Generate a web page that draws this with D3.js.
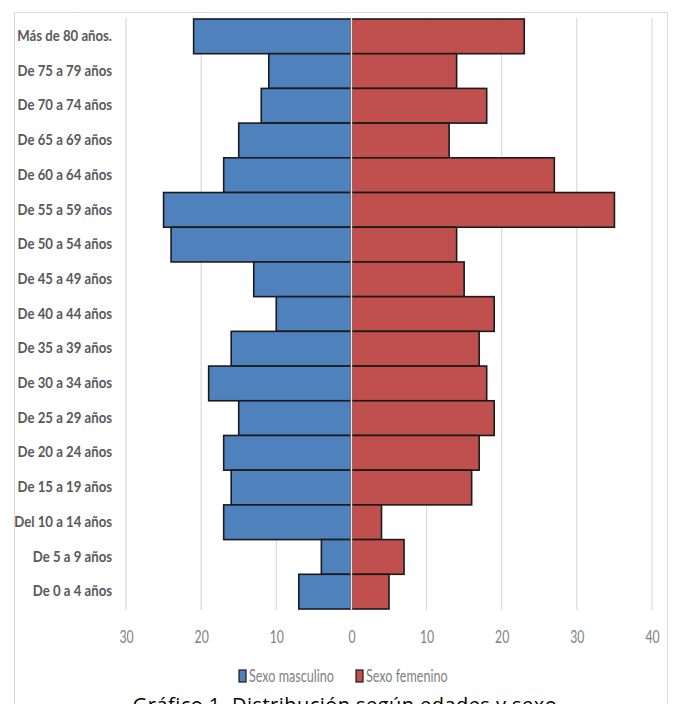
<!DOCTYPE html>
<html>
<head>
<meta charset="utf-8">
<script src="https://cdn.jsdelivr.net/npm/d3@7/dist/d3.min.js"></script>
<style>
  html, body { margin: 0; padding: 0; background: #fff; }
  svg { display: block; }
</style>
</head>
<body>
<svg id="chart" width="673" height="704"></svg>
<script>
// Age groups, top to bottom
const ageGroups = [
  "Más de 80 años.", "De 75 a 79 años", "De 70 a 74 años", "De 65 a 69 años",
  "De 60 a 64 años", "De 55 a 59 años", "De 50 a 54 años", "De 45 a 49 años",
  "De 40 a 44 años", "De 35 a 39 años", "De 30 a 34 años", "De 25 a 29 años",
  "De 20 a 24 años", "De 15 a 19 años", "Del 10 a 14 años", "De 5 a 9 años",
  "De 0 a 4 años"
];
// Counts per age group
const male   = [21, 11, 12, 15, 17, 25, 24, 13, 10, 16, 19, 15, 17, 16, 17, 4, 7];
const female = [23, 14, 18, 13, 27, 35, 14, 15, 19, 17, 18, 19, 17, 16, 4, 7, 5];
const tickValues = [-30, -20, -10, 0, 10, 20, 30, 40];
const seriesNames = ["Sexo masculino", "Sexo femenino"];
const seriesColors = ["#4f81bd", "#c0504d"];

const svg = d3.select("#chart");
const font = "Lato, 'Open Sans', sans-serif";

// Narrow the glyphs horizontally around each text's anchor point
function squeeze(sel, s) {
  sel.each(function () {
    const t = d3.select(this);
    const tx = +t.attr("x") || 0;
    t.attr("x", 0).attr("transform", `translate(${tx},0) scale(${s},1)`);
  });
}

// Outer frame
svg.append("rect")
  .attr("x", 14.5).attr("y", 12.5)
  .attr("width", 653).attr("height", 720)
  .attr("fill", "none").attr("stroke", "#d9d9d9").attr("stroke-width", 1);

const x = d3.scaleLinear().domain([-30, 40]).range([126, 652]);
const y = d3.scaleBand().domain(ageGroups).range([19, 609]).padding(0);

// Vertical gridlines
svg.append("g").selectAll("line")
  .data(tickValues.filter(v => v !== 0))
  .join("line")
  .attr("x1", d => x(d)).attr("x2", d => x(d))
  .attr("y1", 18).attr("y2", 610)
  .attr("stroke", "#d9d9d9").attr("stroke-width", 1.2);

// Bars
const bars = svg.append("g");
bars.selectAll("rect.m")
  .data(ageGroups)
  .join("rect")
  .attr("class", "m")
  .attr("x", (d, i) => x(-male[i]))
  .attr("y", d => y(d))
  .attr("width", (d, i) => x(0) - x(-male[i]))
  .attr("height", y.bandwidth())
  .attr("fill", seriesColors[0])
  .attr("stroke", "#1a1a1a").attr("stroke-width", 1.6);

bars.selectAll("rect.f")
  .data(ageGroups)
  .join("rect")
  .attr("class", "f")
  .attr("x", x(0))
  .attr("y", d => y(d))
  .attr("width", (d, i) => x(female[i]) - x(0))
  .attr("height", y.bandwidth())
  .attr("fill", seriesColors[1])
  .attr("stroke", "#1a1a1a").attr("stroke-width", 1.6);

// Zero line
svg.append("line")
  .attr("x1", x(0)).attr("x2", x(0))
  .attr("y1", 18).attr("y2", 610)
  .attr("stroke", "#e6e6e6").attr("stroke-width", 1.5);

// Category labels
const yAxis = d3.axisLeft(y).tickSize(0).tickPadding(0);
const yg = svg.append("g").attr("transform", "translate(112,0)").call(yAxis);
yg.select(".domain").remove();
yg.selectAll("text")
  .attr("font-family", font)
  .attr("font-weight", "bold")
  .attr("font-size", 15.5)
  .attr("dy", "0.3em")
  .attr("fill", "#595959")
  .call(squeeze, 0.85);

// Value axis (absolute values on both sides)
const xAxis = d3.axisBottom(x).tickValues(tickValues)
  .tickFormat(d => Math.abs(d)).tickSize(0).tickPadding(0);
const xg = svg.append("g").attr("transform", "translate(0,643)").call(xAxis);
xg.select(".domain").remove();
xg.selectAll("text")
  .attr("font-family", font)
  .attr("font-size", 18)
  .attr("dy", 0)
  .attr("fill", "#808080")
  .call(squeeze, 0.68);

// Legend
const legend = svg.append("g");
const legendX = [239, 356];
seriesNames.forEach((name, i) => {
  legend.append("rect")
    .attr("x", legendX[i]).attr("y", 670)
    .attr("width", 7).attr("height", 12)
    .attr("fill", seriesColors[i])
    .attr("stroke", "#1a1a1a").attr("stroke-width", 1.2);
  legend.append("text")
    .attr("x", legendX[i] + 10).attr("y", 682)
    .attr("font-family", font)
    .attr("font-size", 17)
    .attr("fill", "#808080")
    .text(name)
    .call(squeeze, 0.74);
});

// Caption
svg.append("text")
  .attr("x", 345).attr("y", 712)
  .attr("text-anchor", "middle")
  .attr("font-family", "'Open Sans', sans-serif")
  .attr("font-size", 20)
  .attr("letter-spacing", 0.45)
  .attr("fill", "#000")
  .text("Gráfico 1. Distribución según edades y sexo");
</script>
</body>
</html>
